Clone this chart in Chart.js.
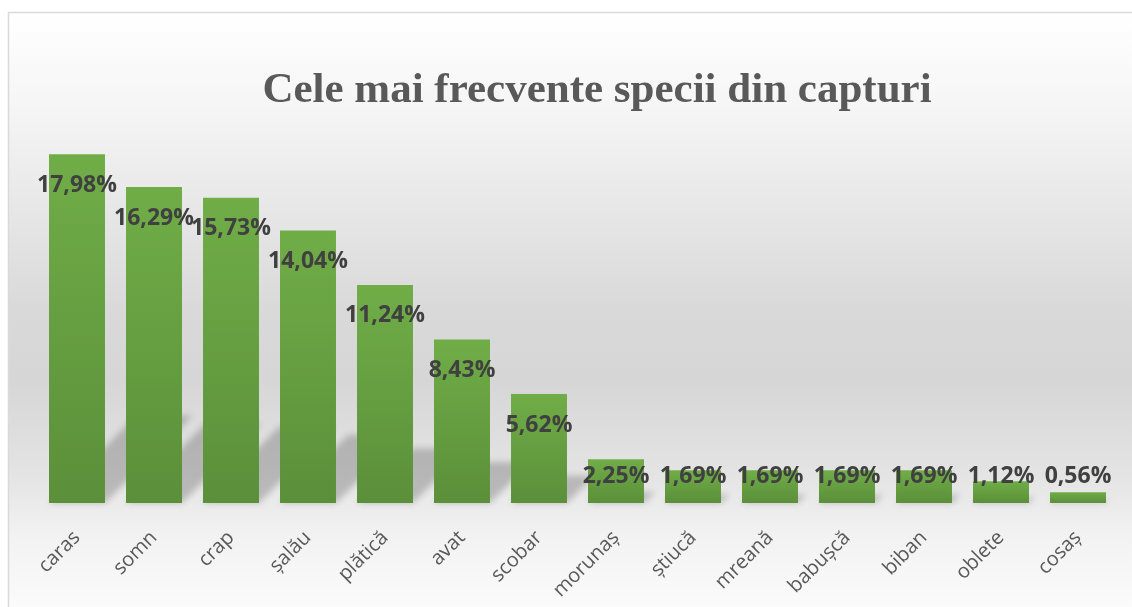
<!DOCTYPE html>
<html lang="ro">
<head>
  <meta charset="UTF-8">
  <title>Cele mai frecvente specii din capturi</title>
  <script src="https://cdn.jsdelivr.net/npm/chart.js"></script>
  <style>
    html, body { margin: 0; padding: 0; background: #fff; }
    canvas { display: block; }
  </style>
</head>
<body>
  <canvas id="chart" width="1132" height="607"></canvas>

  <script>
    const titlu = "Cele mai frecvente specii din capturi";
    const specii = ["caras", "somn", "crap", "șalău", "plătică", "avat", "scobar",
                    "morunaș", "știucă", "mreană", "babușcă", "biban", "oblete", "cosaș"];
    const procente = [17.98, 16.29, 15.73, 14.04, 11.24, 8.43, 5.62,
                      2.25, 1.69, 1.69, 1.69, 1.69, 1.12, 0.56];

    // fundal cu degrade + rama + titlu
    const fundal = {
      id: "fundal",
      beforeDraw(chart) {
        const c = chart.ctx;
        const w = chart.width, h = chart.height;
        c.save();
        c.fillStyle = "#fff";
        c.fillRect(0, 0, w, h);
        const g = c.createLinearGradient(0, 12, 0, h);
        g.addColorStop(0, "#ffffff");
        g.addColorStop(0.15, "#f6f6f6");
        g.addColorStop(0.5, "#d9d9d9");
        g.addColorStop(0.62, "#d6d6d6");
        g.addColorStop(0.78, "#e4e4e4");
        g.addColorStop(0.88, "#f2f2f2");
        g.addColorStop(1, "#fbfbfb");
        c.fillStyle = g;
        c.fillRect(9, 13, w - 9, h - 13);
        c.strokeStyle = "#d9d9d9";
        c.lineWidth = 1.5;
        c.beginPath();
        c.moveTo(8.5, h);
        c.lineTo(8.5, 12.5);
        c.lineTo(w, 12.5);
        c.stroke();

        c.fillStyle = "#595959";
        c.font = "bold 43px 'Liberation Serif', serif";
        c.textAlign = "center";
        c.textBaseline = "alphabetic";
        c.fillText(titlu, 597, 102);
        c.restore();
      }
    };

    // umbra oblica din spatele barelor
    const umbra = {
      id: "umbra",
      beforeDatasetsDraw(chart) {
        const c = chart.ctx;
        const meta = chart.getDatasetMeta(0);
        c.save();
        c.filter = "blur(3px)";
        c.fillStyle = "rgba(0,0,0,0.2)";
        meta.data.forEach(bar => {
          const half = bar.width / 2;
          const d = (bar.base - bar.y) * 0.25;
          c.beginPath();
          c.moveTo(bar.x - half, bar.base);
          c.lineTo(bar.x + half, bar.base);
          c.lineTo(bar.x + half + d, bar.base - d);
          c.lineTo(bar.x - half + d, bar.base - d);
          c.closePath();
          c.fill();
        });
        c.restore();
      }
    };

    // etichete cu valori
    const etichete = {
      id: "etichete",
      afterDatasetsDraw(chart) {
        const c = chart.ctx;
        const meta = chart.getDatasetMeta(0);
        c.save();
        c.fillStyle = "#404040";
        c.font = "bold 23px 'Open Sans', sans-serif";
        c.textAlign = "center";
        c.textBaseline = "middle";
        meta.data.forEach((bar, i) => {
          const y = Math.min(bar.y + 31, bar.base - 27);
          c.fillText(procente[i].toFixed(2).replace(".", ",") + "%", bar.x, y);
        });
        c.restore();
      }
    };

    const ctx = document.getElementById("chart").getContext("2d");
    const chart = new Chart(ctx, {
      type: "bar",
      data: {
        labels: specii,
        datasets: [{
          label: "Procent",
          data: procente,
          backgroundColor: (context) => {
            const ch = context.chart;
            if (!ch.chartArea || !ch.scales.y) return "#66a040";
            const top = ch.scales.y.getPixelForValue(context.raw);
            const base = ch.scales.y.getPixelForValue(0);
            if (!isFinite(top) || base - top < 1) return "#66a040";
            const g = ch.ctx.createLinearGradient(0, top, 0, base);
            g.addColorStop(0, "#70ad47");
            g.addColorStop(1, "#5b8f3a");
            return g;
          },
          borderWidth: 0,
          categoryPercentage: 1,
          barPercentage: 0.727
        }]
      },
      options: {
        responsive: false,
        animation: false,
        layout: { padding: { left: 38.5, right: 15.5, top: 115, bottom: 0 } },
        plugins: {
          legend: { display: false },
          title: { display: false },
          tooltip: { enabled: false }
        },
        scales: {
          x: {
            grid: { display: false, drawTicks: false },
            border: { display: false },
            ticks: {
              color: "#595959",
              font: { family: "'Open Sans', sans-serif", size: 20 },
              minRotation: 45,
              maxRotation: 45,
              padding: 23,
              autoSkip: false
            },
            afterFit: (s) => { s.height = 104; }
          },
          y: {
            display: false,
            min: 0,
            max: 20
          }
        }
      },
      plugins: [fundal, umbra, etichete]
    });
  </script>
</body>
</html>
